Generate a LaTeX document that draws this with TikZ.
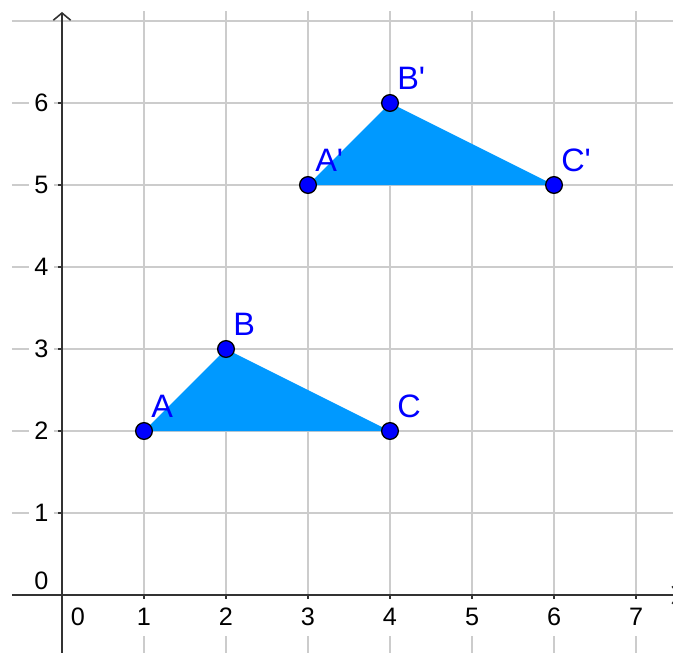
\documentclass[tikz,border=0pt]{standalone}
\usepackage{fontspec}
\setmainfont{Liberation Sans}
\usepackage{tikz}
\usetikzlibrary{arrows.meta}
\definecolor{gridgray}{HTML}{CCCCCC}
\definecolor{axisgray}{HTML}{333333}
\definecolor{trifill}{HTML}{0099FF}
\definecolor{ptblue}{HTML}{0000FF}
\tikzset{
  gridline/.style={gridgray, line width=1.3pt},
  axisline/.style={axisgray, line width=1.1pt, -{Straight Barb[length=5pt, width=12pt]}},
  tickmark/.style={axisgray, line width=1.1pt},
  trishape/.style={fill=trifill},
  dot/.style={circle, draw=black, fill=ptblue, line width=0.9pt, minimum size=11.6pt, inner sep=0pt},
  ptlabel/.style={ptblue, font=\fontsize{22.5}{22.5}\selectfont, anchor=base west, inner sep=0pt},
  ticklabel/.style={font=\fontsize{17.5}{17.5}\selectfont, fill=white, inner xsep=3.5pt, inner ysep=7pt},
}

\begin{document}
\begin{tikzpicture}[x=2cm, y=2cm]

\useasboundingbox (-0.756,-0.695) rectangle (7.451,7.256);
\clip (-0.756,-0.695) rectangle (7.451,7.256);

% Grid
\foreach \k in {1,...,7} {
  \draw[gridline] (-0.61,\k) -- (7.6,\k);
  \draw[gridline] (\k,-0.8) -- (\k,7.12);
}

% Vertices
\coordinate (A) at (1,2);
\coordinate (B) at (2,3);
\coordinate (C) at (4,2);
\coordinate (Ap) at (3,5);
\coordinate (Bp) at (4,6);
\coordinate (Cp) at (6,5);

% Triangles
\fill[trishape] (A) -- (B) -- (C) -- cycle;
\fill[trishape] (Ap) -- (Bp) -- (Cp) -- cycle;

% Tick labels
\foreach \k in {1,...,7}
  \node[ticklabel] (x\k) at (\k,-0.268) {\k};
\node[ticklabel] (x0) at (0.195,-0.268) {0};
\foreach \k in {1,...,6}
  \node[ticklabel, anchor=east] (y\k) at (-0.10,\k) {\k};
\node[ticklabel, anchor=east, inner ysep=2pt] (y0) at (-0.10,0.17) {0};

% Axes
\coordinate (xstart) at (-0.61,0);
\coordinate (xend) at (7.54,0);
\coordinate (ystart) at (0,-0.8);
\coordinate (yend) at (0,7.11);
\draw[axisline] (xstart) -- (xend);
\draw[axisline] (ystart) -- (yend);
\foreach \k in {1,...,7}
  \draw[tickmark] (\k,0) -- (\k,-0.05);
\foreach \k in {1,...,6}
  \draw[tickmark] (0,\k) -- (-0.05,\k);

% Points and names
\foreach \n/\t in {A/A, B/B, C/C, Ap/A\textquotesingle, Bp/B\textquotesingle, Cp/C\textquotesingle} {
  \node[dot] (\n-dot) at (\n) {};
  \node[ptlabel] (\n-lbl) at ([shift={(0.085,0.17)}]\n) {\t};
}

\end{tikzpicture}
\end{document}
